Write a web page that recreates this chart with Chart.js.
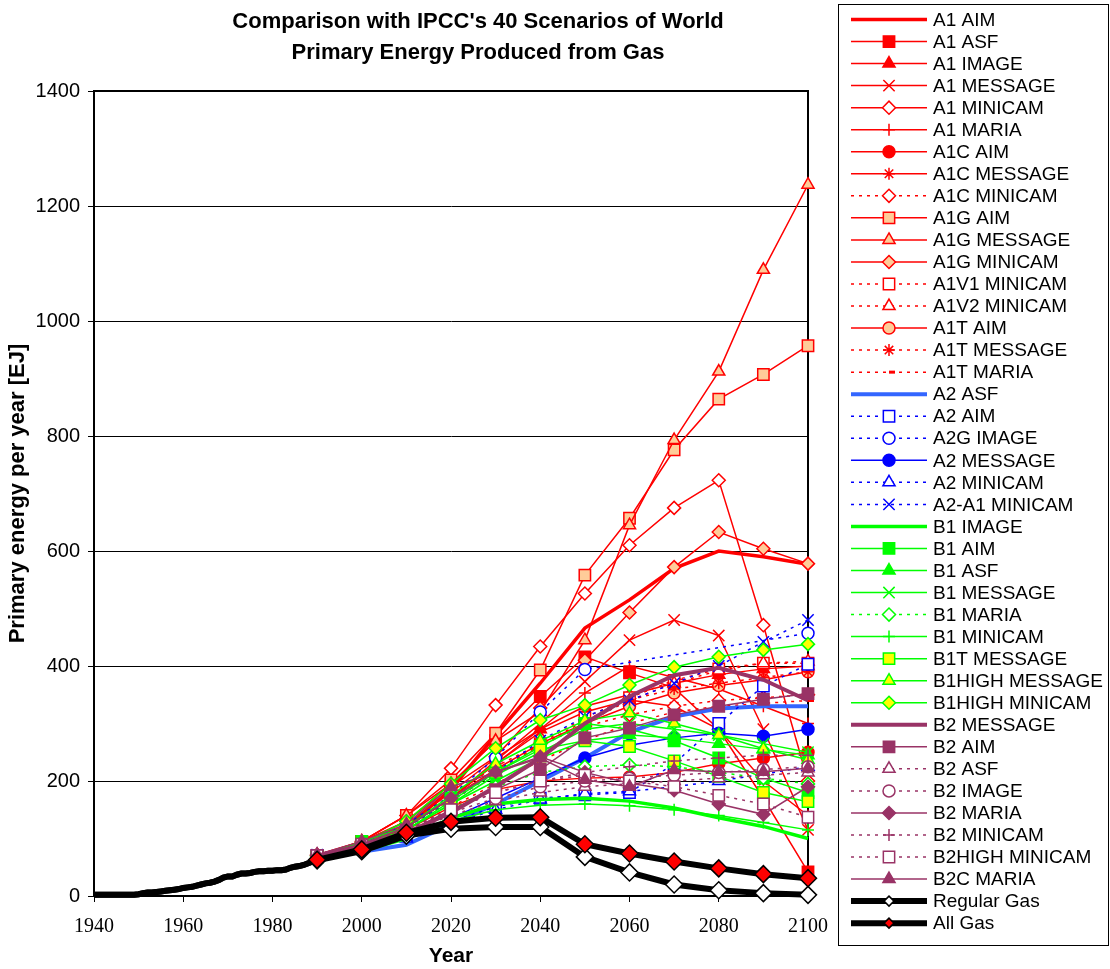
<!DOCTYPE html>
<html>
<head>
<meta charset="utf-8">
<script src="https://cdn.jsdelivr.net/npm/chart.js@4.4.1/dist/chart.umd.min.js"></script>
<style>
  html, body { margin: 0; padding: 0; background: #fff; }
  #wrap { width: 1110px; height: 969px; }
</style>
</head>
<body>
<div id="wrap"><canvas id="chart" width="1110" height="969"></canvas></div>
<script>
// scenario years and values [EJ/yr]
const years = [1990, 2000, 2010, 2020, 2030, 2040, 2050, 2060, 2070, 2080, 2090, 2100];

const a1Aim        = [70, 90, 120, 185, 280, 370, 466, 515, 570, 600, 590, 577];
const a1Asf        = [70, 95, 130, 195, 270, 347, 416, 388, 362, 290, 170, 42];
const a1Image      = [70, 92, 125, 180, 240, 290, 330, 350, 370, 385, 395, 400];
const a1Message    = [70, 90, 120, 170, 235, 300, 373, 445, 480, 453, 290, 115];
const a1Minicam    = [72, 95, 140, 222, 332, 434, 526, 610, 675, 723, 471, 200];
const a1Maria      = [70, 90, 120, 170, 230, 290, 353, 400, 380, 360, 330, 300];
const a1cAim       = [70, 90, 115, 155, 185, 200, 205, 207, 215, 230, 240, 250];
const a1cMessage   = [70, 90, 120, 170, 230, 285, 320, 341, 330, 290, 200, 140];
const a1cMinicam   = [70, 92, 125, 175, 225, 265, 295, 315, 330, 340, 345, 350];
const a1gAim       = [70, 95, 140, 202, 283, 393, 558, 657, 776, 864, 907, 957];
const a1gMessage   = [70, 95, 140, 195, 270, 320, 445, 645, 793, 912, 1089, 1237];
const a1gMinicam   = [70, 92, 130, 190, 242, 327, 410, 493, 572, 633, 604, 578];
const a1v1Minicam  = [70, 90, 120, 165, 215, 265, 310, 345, 375, 395, 405, 405];
const a1v2Minicam  = [70, 90, 120, 165, 215, 262, 305, 340, 370, 392, 405, 408];
const a1tAim       = [70, 90, 120, 170, 220, 265, 300, 330, 353, 366, 376, 390];
const a1tMessage   = [70, 90, 120, 165, 215, 260, 300, 341, 360, 370, 380, 390];
const a1tMaria     = [70, 90, 115, 155, 195, 235, 270, 300, 320, 330, 335, 340];
const a2Asf        = [65, 77, 89, 125, 160, 200, 240, 285, 312, 326, 330, 330];
const a2Aim        = [70, 88, 105, 130, 155, 170, 176, 180, 230, 300, 365, 403];
const a2gImage     = [70, 90, 125, 175, 240, 320, 394, null, null, null, null, 457];
const a2Message    = [70, 85, 105, 135, 170, 205, 240, 262, 275, 283, 278, 290];
const a2Minicam    = [70, 85, 100, 125, 150, 168, 178, 182, 190, 200, 212, 225];
const a2a1Minicam  = [72, 92, 120, 165, 215, 270, 312, 340, 370, 400, 442, 480];
const b1Image      = [66, 78, 100, 135, 160, 168, 170, 165, 153, 136, 121, 100];
const b1Aim        = [68, 95, 120, 170, 215, 260, 300, 290, 270, 240, 205, 180];
const b1Asf        = [68, 88, 115, 160, 200, 240, 270, 280, 275, 265, 255, 245];
const b1Message    = [68, 88, 115, 160, 210, 250, 290, 300, 290, 280, 265, 250];
const b1Maria      = [68, 85, 110, 150, 190, 215, 225, 228, 225, 215, 205, 195];
const b1Minicam    = [68, 82, 105, 130, 150, 158, 160, 157, 150, 140, 128, 115];
const b1tMessage   = [68, 88, 115, 165, 215, 255, 270, 260, 235, 208, 180, 164];
const b1highMessage = [68, 90, 120, 175, 230, 270, 305, 318, 300, 280, 256, 237];
const b1highMinicam = [70, 92, 130, 195, 257, 306, 332, 367, 398, 416, 428, 438];
const b2Message    = [70, 88, 110, 145, 190, 240, 300, 347, 384, 397, 376, 340];
const b2Aim        = [70, 88, 110, 150, 185, 220, 275, 292, 315, 330, 342, 352];
const b2Asf        = [70, 88, 110, 140, 165, 180, 190, 195, 200, 205, 210, 215];
const b2Image      = [70, 90, 115, 145, 170, 190, 200, 205, 210, 215, 220, 225];
const b2Maria      = [70, 90, 120, 170, 216, 242, 215, 196, 184, 160, 142, 190];
const b2Minicam    = [70, 90, 115, 150, 180, 200, 215, 225, 235, 240, 245, 245];
const b2highMinicam = [70, 90, 115, 150, 180, 200, 210, 200, 190, 175, 160, 137];
const b2cMaria     = [72, 95, 125, 190, 215, 240, 202, 190, 219, 216, 216, 222];

// historical gas production, yearly 1940-1989
const histYears = [];
for (let y = 1940; y < 1990; y++) histYears.push(y);
const histGas = [
  2, 2, 2, 2, 2, 2, 2, 2, 2, 2,
  3, 5, 6, 6, 7, 8, 9, 10, 11, 12,
  14, 15, 16, 18, 20, 22, 23, 25, 28, 32,
  34, 34, 37, 39, 39, 40, 42, 43, 43, 44,
  44, 45, 45, 46, 49, 51, 52, 54, 57, 60
];
const regularGas = [62, 78, 105, 117, 120, 120, 68, 41, 20, 10, 5, 2];
const allGas     = [63, 81, 110, 129, 136, 137, 90, 74, 60, 48, 38, 31];

const xTicks = [1940, 1960, 1980, 2000, 2020, 2040, 2060, 2080, 2100];
const yTicks = [0, 200, 400, 600, 800, 1000, 1200, 1400];
const titleLines = ["Comparison with IPCC's 40 Scenarios of World", 'Primary Energy Produced from Gas'];

const RED = '#FF0000', PEACH = '#FFCC99', BLUE = '#0000FF', SKY = '#3366FF',
      GREEN = '#00FF00', YELLOW = '#FFFF00', PLUM = '#993366', WHITE = '#FFFFFF';

// label, values, line colour, marker, marker fill, dotted, line width
const series = [
  ['A1 AIM', a1Aim, RED, null, null, false, 3.5],
  ['A1 ASF', a1Asf, RED, 'rect', RED, false, 1.5],
  ['A1 IMAGE', a1Image, RED, 'triangle', RED, false, 1.5],
  ['A1 MESSAGE', a1Message, RED, 'crossRot', RED, false, 1.5],
  ['A1 MINICAM', a1Minicam, RED, 'rectRot', WHITE, false, 1.5],
  ['A1 MARIA', a1Maria, RED, 'cross', RED, false, 1.5],
  ['A1C AIM', a1cAim, RED, 'circle', RED, false, 1.5],
  ['A1C MESSAGE', a1cMessage, RED, 'star', RED, false, 1.5],
  ['A1C MINICAM', a1cMinicam, RED, 'rectRot', WHITE, true, 1.5],
  ['A1G AIM', a1gAim, RED, 'rect', PEACH, false, 1.5],
  ['A1G MESSAGE', a1gMessage, RED, 'triangle', PEACH, false, 1.5],
  ['A1G MINICAM', a1gMinicam, RED, 'rectRot', PEACH, false, 1.5],
  ['A1V1 MINICAM', a1v1Minicam, RED, 'rect', WHITE, true, 1.5],
  ['A1V2 MINICAM', a1v2Minicam, RED, 'triangle', WHITE, true, 1.5],
  ['A1T AIM', a1tAim, RED, 'circle', PEACH, false, 1.5],
  ['A1T MESSAGE', a1tMessage, RED, 'star', RED, true, 1.5],
  ['A1T MARIA', a1tMaria, RED, 'dash', RED, true, 1.5],
  ['A2 ASF', a2Asf, SKY, null, null, false, 4],
  ['A2 AIM', a2Aim, BLUE, 'rect', WHITE, true, 1.5],
  ['A2G IMAGE', a2gImage, BLUE, 'circle', WHITE, true, 1.5],
  ['A2 MESSAGE', a2Message, BLUE, 'circle', BLUE, false, 1.5],
  ['A2 MINICAM', a2Minicam, BLUE, 'triangle', WHITE, true, 1.5],
  ['A2-A1 MINICAM', a2a1Minicam, BLUE, 'crossRot', BLUE, true, 1.5],
  ['B1 IMAGE', b1Image, GREEN, null, null, false, 3.5],
  ['B1 AIM', b1Aim, GREEN, 'rect', GREEN, false, 1.5],
  ['B1 ASF', b1Asf, GREEN, 'triangle', GREEN, false, 1.5],
  ['B1 MESSAGE', b1Message, GREEN, 'crossRot', GREEN, false, 1.5],
  ['B1 MARIA', b1Maria, GREEN, 'rectRot', WHITE, true, 1.5],
  ['B1 MINICAM', b1Minicam, GREEN, 'cross', GREEN, false, 1.5],
  ['B1T MESSAGE', b1tMessage, GREEN, 'rect', YELLOW, false, 1.5],
  ['B1HIGH MESSAGE', b1highMessage, GREEN, 'triangle', YELLOW, false, 1.5],
  ['B1HIGH MINICAM', b1highMinicam, GREEN, 'rectRot', YELLOW, false, 1.5],
  ['B2 MESSAGE', b2Message, PLUM, null, null, false, 4],
  ['B2 AIM', b2Aim, PLUM, 'rect', PLUM, false, 1.5],
  ['B2 ASF', b2Asf, PLUM, 'triangle', WHITE, true, 1.5],
  ['B2 IMAGE', b2Image, PLUM, 'circle', WHITE, true, 1.5],
  ['B2 MARIA', b2Maria, PLUM, 'rectRot', PLUM, false, 1.5],
  ['B2 MINICAM', b2Minicam, PLUM, 'cross', PLUM, true, 1.5],
  ['B2HIGH MINICAM', b2highMinicam, PLUM, 'rect', WHITE, true, 1.5],
  ['B2C MARIA', b2cMaria, PLUM, 'triangle', PLUM, false, 1.5]
];

const markerSize = { rect: 8, triangle: 7, circle: 6, rectRot: 6.5, crossRot: 8, cross: 6, star: 6, dash: 6 };

const datasets = series.map((s, i) => ({
  label: s[0],
  data: years.map((y, k) => ({ x: y, y: s[1][k] })),
  borderColor: s[2],
  borderWidth: s[6],
  borderDash: s[5] ? [3, 5] : [],
  pointStyle: s[3] || 'circle',
  pointRadius: s[3] ? markerSize[s[3]] : 0,
  pointBackgroundColor: s[4] || s[2],
  pointBorderColor: s[2],
  pointBorderWidth: s[3] === 'dash' ? 3 : 1.5,
  spanGaps: true,
  order: 100 - i
}));

function gasSet(label, values, fill) {
  return {
    label: label,
    data: histYears.map((y, k) => ({ x: y, y: histGas[k] }))
      .concat(years.map((y, k) => ({ x: y, y: values[k] }))),
    borderColor: '#000',
    borderWidth: 6,
    pointStyle: 'rectRot',
    pointRadius: c => (c.raw && c.raw.x >= 1990 ? 8.5 : 0),
    legendRadius: 5,
    pointBackgroundColor: fill,
    pointBorderColor: '#000',
    pointBorderWidth: 1.5,
    order: label === 'All Gas' ? 1 : 2
  };
}
datasets.push(gasSet('Regular Gas', regularGas, WHITE));
datasets.push(gasSet('All Gas', allGas, RED));

function marker(ctx, style, r, x, y) {
  if (Chart.helpers && Chart.helpers.drawPoint) {
    Chart.helpers.drawPoint(ctx, { pointStyle: style, radius: r, rotation: 0, borderWidth: ctx.lineWidth }, x, y);
  } else {
    ctx.beginPath(); ctx.arc(x, y, r, 0, Math.PI * 2); ctx.fill(); ctx.stroke();
  }
}

const framePlugin = {
  id: 'frameAndLegend',
  beforeDatasetsDraw(chart) {
    const { ctx, chartArea: a } = chart;
    ctx.save();
    ctx.strokeStyle = '#000';
    ctx.lineWidth = 2;
    ctx.strokeRect(a.left, a.top, a.right - a.left, a.bottom - a.top);
    ctx.restore();
  },
  afterDraw(chart) {
    const ctx = chart.ctx;
    ctx.save();
    ctx.fillStyle = '#000';
    ctx.font = 'bold 22px "Liberation Sans", Arial, sans-serif';
    ctx.textAlign = 'center';
    ctx.textBaseline = 'middle';
    titleLines.forEach((t, i) => ctx.fillText(t, 478, 22 + i * 31));

    ctx.lineWidth = 1;
    ctx.strokeStyle = '#000';
    ctx.strokeRect(838.5, 4.5, 270, 941);
    ctx.font = '19px "Liberation Sans", Arial, sans-serif';
    ctx.textAlign = 'left';
    chart.data.datasets.forEach((ds, i) => {
      const y = 19.5 + i * 22.04;
      ctx.save();
      ctx.strokeStyle = ds.borderColor;
      ctx.lineWidth = ds.borderWidth;
      ctx.setLineDash(ds.borderDash || []);
      ctx.beginPath();
      ctx.moveTo(851, y);
      ctx.lineTo(927, y);
      ctx.stroke();
      ctx.setLineDash([]);
      const r = ds.legendRadius || ds.pointRadius;
      if (r > 0) {
        ctx.fillStyle = ds.pointBackgroundColor;
        ctx.strokeStyle = ds.pointBorderColor;
        ctx.lineWidth = ds.pointBorderWidth;
        marker(ctx, ds.pointStyle, r, 889, y);
      }
      ctx.restore();
      ctx.fillStyle = '#000';
      ctx.fillText(ds.label, 933, y + 1);
    });
    ctx.restore();
  }
};

new Chart(document.getElementById('chart'), {
  type: 'line',
  data: { datasets: datasets },
  plugins: [framePlugin],
  options: {
    responsive: false,
    animation: false,
    events: [],
    layout: { padding: { top: 91, left: 0, right: 302, bottom: 0 } },
    elements: { line: { tension: 0 } },
    datasets: { line: { clip: false } },
    plugins: { legend: { display: false }, tooltip: { enabled: false }, title: { display: false } },
    scales: {
      x: {
        type: 'linear', min: 1940, max: 2100,
        afterFit: s => { s.height = 73; },
        afterBuildTicks: s => { s.ticks = xTicks.map(v => ({ value: v })); },
        grid: { drawOnChartArea: false, color: '#000', tickLength: 6 },
        border: { color: '#000', width: 2 },
        ticks: { color: '#000', padding: 13, maxRotation: 0, callback: v => String(v),
                 font: { family: '"Liberation Serif", "Times New Roman", serif', size: 20 } },
        title: { display: true, text: 'Year', color: '#000', padding: { top: 0, bottom: 0 },
                 font: { family: '"Liberation Sans", Arial, sans-serif', size: 21, weight: 'bold' } }
      },
      y: {
        min: 0, max: 1400,
        afterFit: s => { s.width = 94; },
        afterBuildTicks: s => { s.ticks = yTicks.map(v => ({ value: v })); },
        grid: { color: '#000', lineWidth: 1, tickLength: 6 },
        border: { color: '#000', width: 2 },
        ticks: { color: '#000', padding: 8, callback: v => String(v),
                 font: { family: '"Liberation Sans", Arial, sans-serif', size: 20 } },
        title: { display: true, text: 'Primary energy per year [EJ]', color: '#000', padding: { top: 5, bottom: 0 },
                 font: { family: '"Liberation Sans", Arial, sans-serif', size: 22, weight: 'bold' } }
      }
    }
  }
});
</script>
</body>
</html>
